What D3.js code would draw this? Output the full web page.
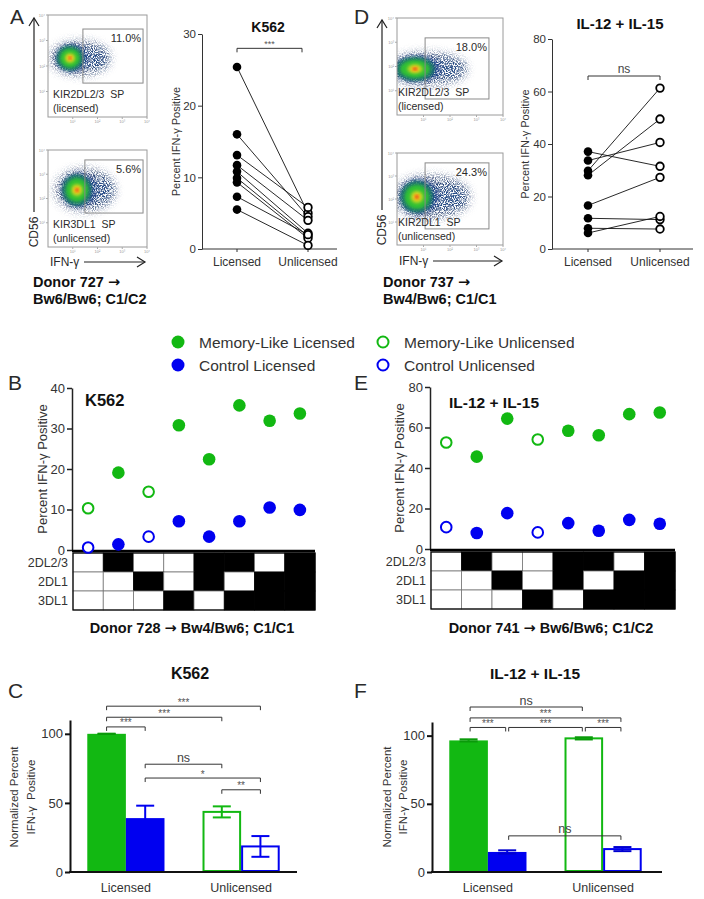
<!DOCTYPE html>
<html><head><meta charset="utf-8">
<script src="https://cdn.jsdelivr.net/npm/d3@7"></script>
<style>body{margin:0;background:#fff}svg{font-family:"Liberation Sans",Arial,sans-serif}</style>
</head><body><svg id="c" width="704" height="899"></svg>
<script>
// ---------------- DATA ----------------
const pairCats = ["Licensed", "Unlicensed"];
const k562PairLicensed   = [25.4, 16.0, 13.1, 11.7, 10.8, 9.9, 9.3, 7.3, 5.5];
const k562PairUnlicensed = [5.0, 4.5, 5.8, 4.0, 2.2, 1.8, 1.5, 2.0, 0.5];
const ilPairLicensed     = [37.1, 33.7, 29.8, 28.1, 16.6, 11.7, 7.9, 6.1];
const ilPairUnlicensed   = [31.5, 40.6, 61.3, 49.5, 27.3, 11.2, 7.6, 12.4];

const kirRows = ["2DL2/3", "2DL1", "3DL1"];
const kirPattern = [[0,1,0,0,1,1,0,1],[0,0,1,0,1,0,1,1],[0,0,0,1,0,1,1,1]];
const k562MemoryLike = [10.3, 19.1, 14.4, 30.8, 22.4, 35.7, 31.9, 33.7];
const k562Control    = [0.6, 1.4, 3.3, 7.1, 3.3, 7.1, 10.5, 9.9];
const k562IsLicensed = [false, true, false, true, true, true, true, true];
const ilMemoryLike   = [52.6, 45.6, 64.4, 54.1, 58.4, 56.2, 66.6, 67.4];
const ilControl      = [10.8, 7.9, 17.7, 8.2, 12.8, 9.0, 14.4, 12.5];
const ilIsLicensed   = [false, true, true, false, true, true, true, true];

const barGroups = ["Licensed", "Unlicensed"];
const barSeries = ["Memory-Like", "Control"];
const k562BarMean = [[100, 39], [43.5, 18.5]];
const k562BarSem  = [[0, 9], [4, 7.5]];
const ilBarMean   = [[96.5, 14.7], [98, 16.8]];
const ilBarSem    = [[0.8, 1.2], [0.8, 1.5]];
// significance: [barFrom, barTo, height (value units), label]
const k562Sig = [[0,3,120,"***"],[0,2,112,"***"],[0,1,105,"***"],[1,2,78,"ns"],[1,3,68,"*"],[2,3,59.5,"**"]];
const ilSig   = [[0,2,121,"ns"],[0,3,113,"***"],[0,1,106,"***"],[1,2,106,"***"],[2,3,106,"***"],[1,3,26.5,"ns"]];

const flowPercents = ["11.0%", "5.6%", "18.0%", "24.3%"];
const flowSubsets  = ["KIR2DL2/3  SP", "KIR3DL1  SP", "KIR2DL2/3  SP", "KIR2DL1  SP"];
const flowStatus   = ["(licensed)", "(unlicensed)", "(licensed)", "(unlicensed)"];
const flowGateX = [[1.41,3.84],[1.49,3.84],[1.06,3.47],[1.06,3.47]]; // log10 IFN-γ
const flowGateY = [[1.33,3.45],[1.40,3.59],[0.66,3.18],[0.70,3.57]]; // log10 CD56
const flowCenterX = [0.89, 1.17, 0.68, 0.75];
const flowCenterY = [2.31, 2.35, 1.90, 2.09];
const flowSpreadX = [0.55, 0.6, 0.75, 0.62];
const flowSpreadY = [0.5, 0.65, 0.5, 0.7];
const flowTail    = [2.5, 2.7, 2.65, 2.75];
const flowDecades = ["10⁰","10¹","10²","10³","10⁴"];

const donorLines = [["Donor 727 →", "Bw6/Bw6; C1/C2"], ["Donor 737 →", "Bw4/Bw6; C1/C1"]];
const donorGrid = ["Donor 728 → Bw4/Bw6; C1/C1", "Donor 741 → Bw6/Bw6; C1/C2"];
const legendItems = ["Memory-Like Licensed", "Control Licensed", "Memory-Like Unlicensed", "Control Unlicensed"];

// ---------------- STYLE ----------------
const GREEN = "#12b812", BLUE = "#0000f0", TXT = "#2a2a2a";
const svg = d3.select("#c");
const defs = svg.append("defs");
const fb = defs.append("filter").attr("id","blur").attr("x","-50%").attr("y","-50%").attr("width","200%").attr("height","200%");
fb.append("feGaussianBlur").attr("stdDeviation",1.8);
const fs = defs.append("filter").attr("id","speckle").attr("x","-30%").attr("y","-50%").attr("width","160%").attr("height","200%");
fs.append("feGaussianBlur").attr("in","SourceGraphic").attr("stdDeviation",4).attr("result","b");
fs.append("feTurbulence").attr("type","fractalNoise").attr("baseFrequency",0.9).attr("numOctaves",2).attr("seed",7).attr("result","n");
fs.append("feColorMatrix").attr("in","n").attr("type","matrix").attr("values","0 0 0 0 0  0 0 0 0 0  0 0 0 0 0  3.2 0 0 0 -1.25").attr("result","m");
fs.append("feComposite").attr("in","b").attr("in2","m").attr("operator","in");
const fs2 = defs.append("filter").attr("id","speckle2").attr("x","-30%").attr("y","-50%").attr("width","160%").attr("height","200%");
fs2.append("feGaussianBlur").attr("in","SourceGraphic").attr("stdDeviation",2.5).attr("result","b");
fs2.append("feTurbulence").attr("type","fractalNoise").attr("baseFrequency",1.1).attr("numOctaves",2).attr("seed",3).attr("result","n");
fs2.append("feColorMatrix").attr("in","n").attr("type","matrix").attr("values","0 0 0 0 0  0 0 0 0 0  0 0 0 0 0  4 0 0 0 -1.3").attr("result","m");
fs2.append("feComposite").attr("in","b").attr("in2","m").attr("operator","in");

function txt(g, x, y, s, o={}) {
  const t = g.append("text").attr("x",x).attr("y",y)
    .attr("font-size", o.size||12).attr("fill", o.fill||TXT)
    .attr("text-anchor", o.anchor||"start");
  const parts = String(s).split("→");
  parts.forEach((p,i) => {
    if (i>0) t.append("tspan").attr("font-family","DejaVu Sans").attr("font-weight","bold").text("→");
    if (p) t.append("tspan").text(p);
  });
  if (o.bold) t.attr("font-weight","bold");
  if (o.rot) t.attr("transform",`rotate(-90,${x},${y})`);
  return t;
}

// ---------------- FLOW PLOTS ----------------
const flowBoxes = [{x0:48,x1:147,y0:15,y1:117,dx:5},{x0:48,x1:147,y0:150,y1:247,dx:5},
                   {x0:397,x1:503,y0:18,y1:115,dx:1},{x0:397,x1:503,y0:153,y1:245,dx:1}];
const cloudLayers = [
  {f:1.0, color:"#1a7a6a", op:0.9},
  {f:0.75, color:"#2fbf35", op:1},
  {f:0.42, color:"#8fd028", op:1},
  {f:0.26, color:"#f0d820", op:1},
  {f:0.15, color:"#f07818", op:1},
  {f:0.07, color:"#e02a10", op:1}
];
flowBoxes.forEach((b,i) => {
  const sx = d3.scaleLinear().domain([0,4]).range([b.x0,b.x1]);
  const sy = d3.scaleLinear().domain([0,4]).range([b.y1,b.y0]);
  const g = svg.append("g");
  defs.append("clipPath").attr("id","fc"+i).append("rect")
    .attr("x",b.x0).attr("y",b.y0).attr("width",b.x1-b.x0).attr("height",b.y1-b.y0);
  const cg = g.append("g").attr("clip-path",`url(#fc${i})`);
  const cx = flowCenterX[i], cy = flowCenterY[i], wx = flowSpreadX[i], wy = flowSpreadY[i];
  const hx0 = sx(cx-1.5*wx), hx1 = sx(flowTail[i]);
  cg.append("ellipse").attr("cx",(hx0+hx1)/2).attr("cy",sy(cy)).attr("rx",(hx1-hx0)/2)
    .attr("ry",sy(0)-sy(1.35*wy)).attr("fill","#263a66").attr("filter","url(#speckle)");
  cg.append("ellipse").attr("cx",(sx(cx)+hx1)/2).attr("cy",sy(cy)).attr("rx",(hx1-sx(cx))/2*0.85)
    .attr("ry",sy(0)-sy(0.8*wy)).attr("fill","#1f4a8a").attr("filter","url(#speckle)");
  cg.append("ellipse").attr("cx",sx(cx+0.1*wx)).attr("cy",sy(cy)).attr("rx",sx(1.15*wx)-sx(0))
    .attr("ry",sy(0)-sy(1.1*wy)).attr("fill","#1c3c8c").attr("filter","url(#speckle2)");
  cloudLayers.forEach(l => {
    cg.append("ellipse").attr("cx",sx(cx)).attr("cy",sy(cy))
      .attr("rx",sx(wx*l.f)-sx(0)).attr("ry",sy(0)-sy(wy*l.f))
      .attr("fill",l.color).attr("opacity",l.op).attr("filter","url(#blur)");
  });
  g.append("rect").attr("x",b.x0).attr("y",b.y0).attr("width",b.x1-b.x0).attr("height",b.y1-b.y0)
    .attr("fill","none").attr("stroke","#9a9a9a").attr("stroke-width",1);
  const gx = flowGateX[i], gy = flowGateY[i];
  g.append("rect").attr("x",sx(gx[0])).attr("y",sy(gy[1])).attr("width",sx(gx[1])-sx(gx[0]))
    .attr("height",sy(gy[0])-sy(gy[1])).attr("fill","none").attr("stroke","#8a8a8a").attr("stroke-width",1);
  txt(g, sx(gx[1])-2, sy(gy[1])+13, flowPercents[i], {size:11, anchor:"end"});
  txt(g, b.x0+b.dx, b.y1-19, flowSubsets[i], {size:10.5}).style("white-space","pre");
  txt(g, b.x0+b.dx, b.y1-5, flowStatus[i], {size:10.5});
  d3.range(1,5).forEach(k => {
    g.append("line").attr("x1",b.x0).attr("x2",b.x0-2).attr("y1",sy(k)).attr("y2",sy(k)).attr("stroke","#aaa");
    g.append("line").attr("y1",b.y1).attr("y2",b.y1+2).attr("x1",sx(k)).attr("x2",sx(k)).attr("stroke","#aaa");
    txt(g, b.x0-3, sy(k)+1.5, flowDecades[k], {size:4, fill:"#999", anchor:"end"});
    txt(g, sx(k), b.y1+6, flowDecades[k], {size:4, fill:"#999", anchor:"middle"});
  });
});
function flowAxes(ax, axTop, cdY, ifnX, ifnY, arrEnd) {
  const g = svg.append("g").attr("stroke","#222").attr("fill","none").attr("stroke-width",1.2);
  g.append("path").attr("d",`M${ax},${cdY-20}V${axTop}`);
  g.append("path").attr("d",`M${ax-5},${axTop+8}L${ax},${axTop}L${ax+5},${axTop+8}`);
  g.append("path").attr("d",`M${ifnX+34},${ifnY-4}H${arrEnd}`);
  g.append("path").attr("d",`M${arrEnd-8},${ifnY-9}L${arrEnd},${ifnY-4}L${arrEnd-8},${ifnY+1}`);
  txt(svg, ax+4, cdY, "CD56", {size:12, rot:true, anchor:"middle"});
  txt(svg, ifnX, ifnY, "IFN-γ", {size:12});
}
flowAxes(34, 18, 232, 50, 266, 145);
flowAxes(382, 20, 230, 399, 265, 502);
txt(svg, 10, 24, "A", {size:21});
txt(svg, 354, 24, "D", {size:21});
[[33,0],[383,1]].forEach(([x,i]) => {
  txt(svg, x, 287, donorLines[i][0], {size:14.5, bold:true, fill:"#111"});
  txt(svg, x, 304, donorLines[i][1], {size:14.5, bold:true, fill:"#111"});
});

// ---------------- PAIRED PLOTS ----------------
function paired(o) {
  const g = svg.append("g");
  const y = d3.scaleLinear().domain([0,o.max]).range([o.yb,o.yt]);
  const x = d3.scalePoint().domain(pairCats).range([o.xl,o.xu]);
  const ya = g.append("g").attr("transform",`translate(${o.ax},0)`)
    .call(d3.axisLeft(y).tickValues(o.ticks).tickSize(4).tickSizeOuter(0).tickPadding(2));
  ya.selectAll("text").attr("font-size",11.5).attr("fill","#333").attr("font-family","Liberation Sans, Arial");
  ya.selectAll("line,path").attr("stroke","#333");
  g.append("line").attr("x1",o.ax).attr("x2",o.xe).attr("y1",o.yb).attr("y2",o.yb).attr("stroke","#333");
  pairCats.forEach(c => {
    g.append("line").attr("x1",x(c)).attr("x2",x(c)).attr("y1",o.yb).attr("y2",o.yb+3).attr("stroke","#333");
    txt(g, x(c), o.yb+17, c, {size:12, anchor:"middle", fill:"#333"});
  });
  o.lic.forEach((v,i) => g.append("line").attr("x1",x(pairCats[0])).attr("y1",y(v))
    .attr("x2",x(pairCats[1])).attr("y2",y(o.unl[i])).attr("stroke","#111").attr("stroke-width",0.9));
  o.lic.forEach(v => g.append("circle").attr("cx",x(pairCats[0])).attr("cy",y(v)).attr("r",4.3).attr("fill","#000"));
  o.unl.forEach(v => g.append("circle").attr("cx",x(pairCats[1])).attr("cy",y(v)).attr("r",3.8)
    .attr("fill","#fff").attr("stroke","#000").attr("stroke-width",1.8));
  const by = y(o.sigAt);
  g.append("path").attr("d",`M${x(pairCats[0])},${by+4}V${by}H${o.sigEnd}V${by+4}`).attr("fill","none").attr("stroke","#333");
  if (o.sig === "ns") txt(g, (x(pairCats[0])+o.sigEnd)/2, by-3, "ns", {size:12, anchor:"middle", fill:"#444"});
  else txt(g, (x(pairCats[0])+o.sigEnd)/2, by-1, o.sig, {size:9, anchor:"middle", fill:"#555"});
  txt(g, o.tx, o.ty, o.title, {size:o.tsize, bold:true, anchor:"middle", fill:"#111"});
  txt(g, o.labx, (o.yt+o.yb)/2, "Percent IFN-γ Positive", {size:11, rot:true, anchor:"middle", fill:"#333"});
}
paired({ax:202, xe:337, xl:237, xu:308, yb:249, yt:34, max:30, ticks:[0,10,20,30],
  lic:k562PairLicensed, unl:k562PairUnlicensed, sigAt:28, sigEnd:302, sig:"***",
  title:"K562", tx:268, ty:32, tsize:14, labx:180});
paired({ax:552, xe:693, xl:588, xu:660, yb:249, yt:39, max:80, ticks:[0,20,40,60,80],
  lic:ilPairLicensed, unl:ilPairUnlicensed, sigAt:65.9, sigEnd:660, sig:"ns",
  title:"IL-12 + IL-15", tx:620, ty:29, tsize:15, labx:529});

// ---------------- LEGEND ----------------
[[178,342],[178,365],[383,342],[383,365]].forEach((p,i) => {
  const col = i%2===0 ? GREEN : BLUE;
  if (i<2) svg.append("circle").attr("cx",p[0]).attr("cy",p[1]).attr("r",6.5).attr("fill",col);
  else svg.append("circle").attr("cx",p[0]).attr("cy",p[1]).attr("r",5.5).attr("fill","#fff").attr("stroke",col).attr("stroke-width",2);
  txt(svg, p[0]+21, p[1]+5.5, legendItems[i], {size:15.5, fill:"#333"});
});

// ---------------- DOT + GRID PLOTS ----------------
function dotGrid(o) {
  const g = svg.append("g");
  const y = d3.scaleLinear().domain([0,o.max]).range([o.yb,o.yt]);
  const x = d3.scaleBand().domain(d3.range(8)).range([o.xl,o.xr]);
  const ya = g.append("g").attr("transform",`translate(${o.xl-1},0)`)
    .call(d3.axisLeft(y).tickValues(o.ticks).tickSize(5).tickSizeOuter(0).tickPadding(2));
  ya.selectAll("text").attr("font-size",13).attr("fill","#333").attr("font-family","Liberation Sans, Arial");
  ya.selectAll("line,path").attr("stroke","#222").attr("stroke-width",1.5);
  const rh = 19, gy = o.yb+3;
  kirRows.forEach((r,ri) => {
    kirPattern[ri].forEach((v,ci) => {
      g.append("rect").attr("x",x(ci)).attr("y",gy+ri*rh).attr("width",x.bandwidth()).attr("height",rh)
        .attr("fill", v ? "#000" : "#fff").attr("stroke", v ? "#000" : "#777").attr("stroke-width",0.8);
    });
    txt(g, o.xl-5, gy+ri*rh+rh/2+4.5, r, {size:12.5, anchor:"end", fill:"#333"});
  });
  g.append("rect").attr("x",o.xl).attr("y",gy).attr("width",o.xr-o.xl).attr("height",3*rh)
    .attr("fill","none").attr("stroke","#000").attr("stroke-width",1.2);
  g.append("line").attr("x1",o.xl-1).attr("x2",o.xr).attr("y1",o.yb+1).attr("y2",o.yb+1).attr("stroke","#000").attr("stroke-width",2.5);
  [[o.ml,GREEN],[o.ctl,BLUE]].forEach(([arr,col]) => arr.forEach((v,i) => {
    const cxp = x(i)+x.bandwidth()/2;
    if (o.lic[i]) g.append("circle").attr("cx",cxp).attr("cy",y(v)).attr("r",6.3).attr("fill",col);
    else g.append("circle").attr("cx",cxp).attr("cy",y(v)).attr("r",5.3).attr("fill","#fff").attr("stroke",col).attr("stroke-width",2);
  }));
  txt(g, o.tx, o.ty, o.title, {size:o.tsize, bold:true, fill:"#111"});
  txt(g, o.labx, (o.yt+o.yb)/2, "Percent IFN-γ Positive", {size:13, rot:true, anchor:"middle", fill:"#333"});
  txt(g, o.px, 390, o.panel, {size:21});
  txt(g, o.dcx, 633, o.donor, {size:14.5, bold:true, anchor:"middle", fill:"#111"});
}
dotGrid({xl:73, xr:315, yb:550, yt:388, max:40, ticks:[0,10,20,30,40], ml:k562MemoryLike, ctl:k562Control,
  lic:k562IsLicensed, title:"K562", tx:85, ty:406, tsize:16.5, labx:47, panel:"B", px:8,
  donor:donorGrid[0], dcx:192});
dotGrid({xl:431, xr:675, yb:549, yt:387, max:80, ticks:[0,20,40,60,80], ml:ilMemoryLike, ctl:ilControl,
  lic:ilIsLicensed, title:"IL-12 + IL-15", tx:449, ty:408, tsize:15.5, labx:404, panel:"E", px:354,
  donor:donorGrid[1], dcx:551});

// ---------------- BAR PLOTS ----------------
function bars(o) {
  const g = svg.append("g");
  const y = d3.scaleLinear().domain([0,110]).range([872,o.yt]);
  const xg = d3.scaleBand().domain(barGroups).range([o.xl,o.xr]).paddingInner(0.33).paddingOuter(0.15);
  const xs = d3.scaleBand().domain(barSeries).range([0,xg.bandwidth()]);
  const centers = [];
  barGroups.forEach((gr,gi) => barSeries.forEach((s,si) => {
    const x0 = xg(gr)+xs(s), w = xs.bandwidth(), col = si===0 ? GREEN : BLUE;
    const m = o.mean[gi][si], e = o.sem[gi][si];
    centers.push(x0+w/2);
    if (gi===0) g.append("rect").attr("x",x0).attr("y",y(m)).attr("width",w).attr("height",y(0)-y(m)).attr("fill",col);
    else g.append("rect").attr("x",x0+1).attr("y",y(m)).attr("width",w-2).attr("height",y(0)-y(m)-1)
      .attr("fill","#fff").attr("stroke",col).attr("stroke-width",2);
    const cx = x0+w/2, ec = si===0 ? "#0a9a0a" : "#0000d0";
    g.append("line").attr("x1",cx).attr("x2",cx).attr("y1",y(m-e)).attr("y2",y(m+e)).attr("stroke",col).attr("stroke-width",2);
    [m+e, m-e].forEach(v => g.append("line").attr("x1",cx-9).attr("x2",cx+9).attr("y1",y(v)).attr("y2",y(v)).attr("stroke",e<2?ec:col).attr("stroke-width",2));
  }));
  const ya = g.append("g").attr("transform",`translate(${o.xl},0)`)
    .call(d3.axisLeft(y).tickValues([0,50,100]).tickSize(5).tickSizeOuter(0).tickPadding(2));
  ya.selectAll("text").attr("font-size",13).attr("fill","#333").attr("font-family","Liberation Sans, Arial");
  ya.selectAll("line,path").attr("stroke","#111").attr("stroke-width",2);
  g.append("line").attr("x1",o.xl-1).attr("x2",o.xe).attr("y1",872).attr("y2",872).attr("stroke","#111").attr("stroke-width",2);
  barGroups.forEach(gr => txt(g, xg(gr)+xg.bandwidth()/2, 892, gr, {size:12.5, anchor:"middle", fill:"#333"}));
  o.sig.forEach(([a,b,h,lab]) => {
    const by = y(h);
    const inset = o.inset ? 1.5 : 0;
    g.append("path").attr("d",`M${centers[a]+inset},${by+4}V${by}H${centers[b]-inset}V${by+4}`)
      .attr("fill","none").attr("stroke","#333").attr("stroke-width",1);
    const mx = (centers[a]+centers[b])/2;
    if (lab === "ns") txt(g, mx, by-2.5, "ns", {size:12.5, anchor:"middle", fill:"#444"});
    else txt(g, mx, by-0.5, lab, {size:10, anchor:"middle", fill:"#555"});
  });
  txt(g, o.tx, 679, o.title, {size:o.tsize, bold:true, anchor:"middle", fill:"#111"});
  txt(g, o.px, 698, o.panel, {size:21});
  txt(g, o.lab1, 797, "Normalized Percent", {size:11.5, rot:true, anchor:"middle", fill:"#333"});
  txt(g, o.lab2, 797, "IFN-γ  Positive", {size:11.5, rot:true, anchor:"middle", fill:"#333"}).style("white-space","pre");
}
bars({xl:70, xr:297, xe:297, yt:720, mean:k562BarMean, sem:k562BarSem, sig:k562Sig,
  title:"K562", tx:190, tsize:16, panel:"C", px:8, lab1:18, lab2:35});
bars({xl:432, xr:659, xe:662, yt:722, mean:ilBarMean, sem:ilBarSem, sig:ilSig, inset:true,
  title:"IL-12 + IL-15", tx:535, tsize:15.5, panel:"F", px:354, lab1:391, lab2:407});
</script></body></html>
